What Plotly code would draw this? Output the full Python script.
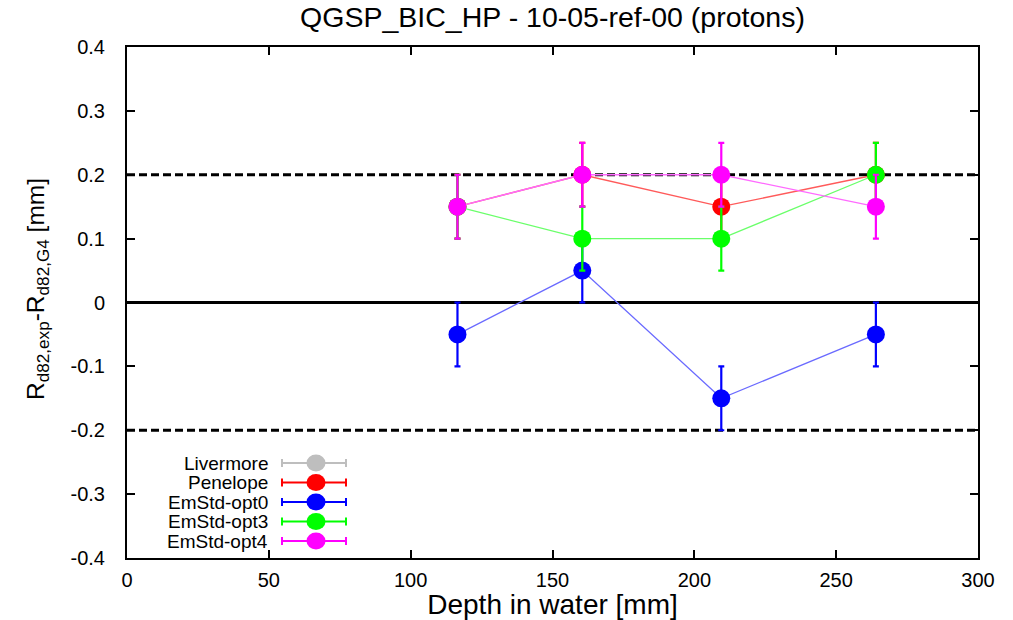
import plotly.graph_objects as go

depth = [116.5, 160.5, 209.5, 264.0]

series_names = ["Livermore", "Penelope", "EmStd-opt0", "EmStd-opt3", "EmStd-opt4"]
livermore_x = []
livermore_y = []
livermore_err = []
penelope_y = [0.15, 0.20, 0.15, 0.20]
penelope_err = [0.05, 0.05, 0.05, 0.05]
opt0_y = [-0.05, 0.05, -0.15, -0.05]
opt0_err = [0.05, 0.05, 0.05, 0.05]
opt3_y = [0.15, 0.10, 0.10, 0.20]
opt3_err = [0.05, 0.05, 0.05, 0.05]
opt4_y = [0.15, 0.20, 0.20, 0.15]
opt4_err = [0.05, 0.05, 0.05, 0.05]

ref_dashed = [0.2, -0.2]
ref_solid = [0.0]

x_ticks = [0, 50, 100, 150, 200, 250, 300]
y_ticks = [-0.4, -0.3, -0.2, -0.1, 0, 0.1, 0.2, 0.3, 0.4]
y_tick_text = ["-0.4", "-0.3", "-0.2", "-0.1", "0", "0.1", "0.2", "0.3", "0.4"]

colors = ["#bebebe", "#ff0000", "#0000ff", "#00ff00", "#ff00ff"]
line_colors = ["#d0d0d0", "#ff5a5a", "#6a6aff", "#6aff6a", "#ff6aff"]

data = [
    (livermore_x, livermore_y, livermore_err),
    (depth, penelope_y, penelope_err),
    (depth, opt0_y, opt0_err),
    (depth, opt3_y, opt3_err),
    (depth, opt4_y, opt4_err),
]

FONT = "Liberation Sans, Arial, sans-serif"
W, H = 1013, 620
ML, MR, MT, MB = 127, 35, 47, 62
PW, PH = W - ML - MR, H - MT - MB

fig = go.Figure()

for name, (xs, ys, es), c, lc in zip(series_names, data, colors, line_colors):
    fig.add_trace(go.Scatter(
        x=xs, y=ys, name=name, mode="lines+markers", showlegend=False,
        line=dict(color=lc, width=1.3),
        marker=dict(color=c, size=18, symbol="circle"),
        error_y=dict(type="data", array=es, visible=True, color=c, thickness=2.2, width=3),
    ))

for yv in ref_dashed:
    fig.add_shape(type="line", xref="paper", x0=0, x1=1, yref="y", y0=yv, y1=yv,
                  line=dict(color="black", width=3, dash="8px,4px"), layer="below")
for yv in ref_solid:
    fig.add_shape(type="line", xref="paper", x0=0, x1=1, yref="y", y0=yv, y1=yv,
                  line=dict(color="black", width=3), layer="below")


def px_x(p):
    return (p - ML) / PW


def px_y(p):
    return (H - MB - p) / PH


# gnuplot-style key: right-aligned names, key sample to the right
key_text_right = 269
key_x0, key_x1, key_xc = 282, 346, 316
key_row0, key_dy = 463, 19.5
for i, (name, c) in enumerate(zip(series_names, colors)):
    yc = px_y(key_row0 + i * key_dy)
    fig.add_annotation(xref="paper", yref="paper", x=px_x(key_text_right), y=yc,
                       xanchor="right", yanchor="middle", showarrow=False, text=name,
                       font=dict(size=19, family=FONT, color="black"), borderpad=0)
    fig.add_shape(type="line", xref="paper", yref="paper", x0=px_x(key_x0), x1=px_x(key_x1),
                  y0=yc, y1=yc, line=dict(color=c, width=2))
    for kx in (key_x0, key_x1):
        fig.add_shape(type="line", xref="paper", yref="paper", xsizemode="pixel",
                      ysizemode="pixel", xanchor=px_x(kx), yanchor=yc, x0=0, x1=0, y0=-4, y1=4,
                      line=dict(color=c, width=2))
    fig.add_shape(type="circle", xref="paper", yref="paper", xsizemode="pixel",
                  ysizemode="pixel", xanchor=px_x(key_xc), yanchor=yc, x0=-9.5, x1=9.5,
                  y0=-8.5, y1=8.5, fillcolor=c, line=dict(color=c, width=0))

# y-axis title as a rotated annotation
fig.add_annotation(xref="paper", yref="paper", x=px_x(37), y=px_y(289),
                   xanchor="center", yanchor="middle", showarrow=False, textangle=-90,
                   text="R<sub>d82,exp</sub>-R<sub>d82,G4</sub> [mm]",
                   font=dict(size=24.5, family=FONT, color="black"))

fig.update_layout(
    width=W, height=H,
    margin=dict(l=ML, r=MR, t=MT, b=MB, autoexpand=False),
    paper_bgcolor="white", plot_bgcolor="white",
    font=dict(family=FONT, color="black", size=20),
    title=dict(text="QGSP_BIC_HP - 10-05-ref-00 (protons)", x=(ML + PW / 2) / W,
               xanchor="center", y=0.988, yanchor="top", font=dict(size=28.5, family=FONT)),
    showlegend=False,
    xaxis=dict(range=[0, 300], tickvals=x_ticks, ticks="inside", ticklen=8, tickwidth=1.5,
               tickcolor="black", showline=True, linecolor="black", linewidth=2, mirror="ticks",
               showgrid=False, zeroline=False, ticklabelstandoff=3, automargin=False,
               title=dict(text="Depth in water [mm]", font=dict(size=28, family=FONT), standoff=6),
               tickfont=dict(size=20)),
    yaxis=dict(range=[-0.4, 0.4], tickvals=y_ticks, ticktext=y_tick_text, ticks="inside",
               ticklen=8, tickwidth=1.5, tickcolor="black", showline=True, linecolor="black",
               linewidth=2, mirror="ticks", showgrid=False, zeroline=False, ticklabelstandoff=16,
               automargin=False, tickfont=dict(size=20)),
)

fig.write_html("out.html")
